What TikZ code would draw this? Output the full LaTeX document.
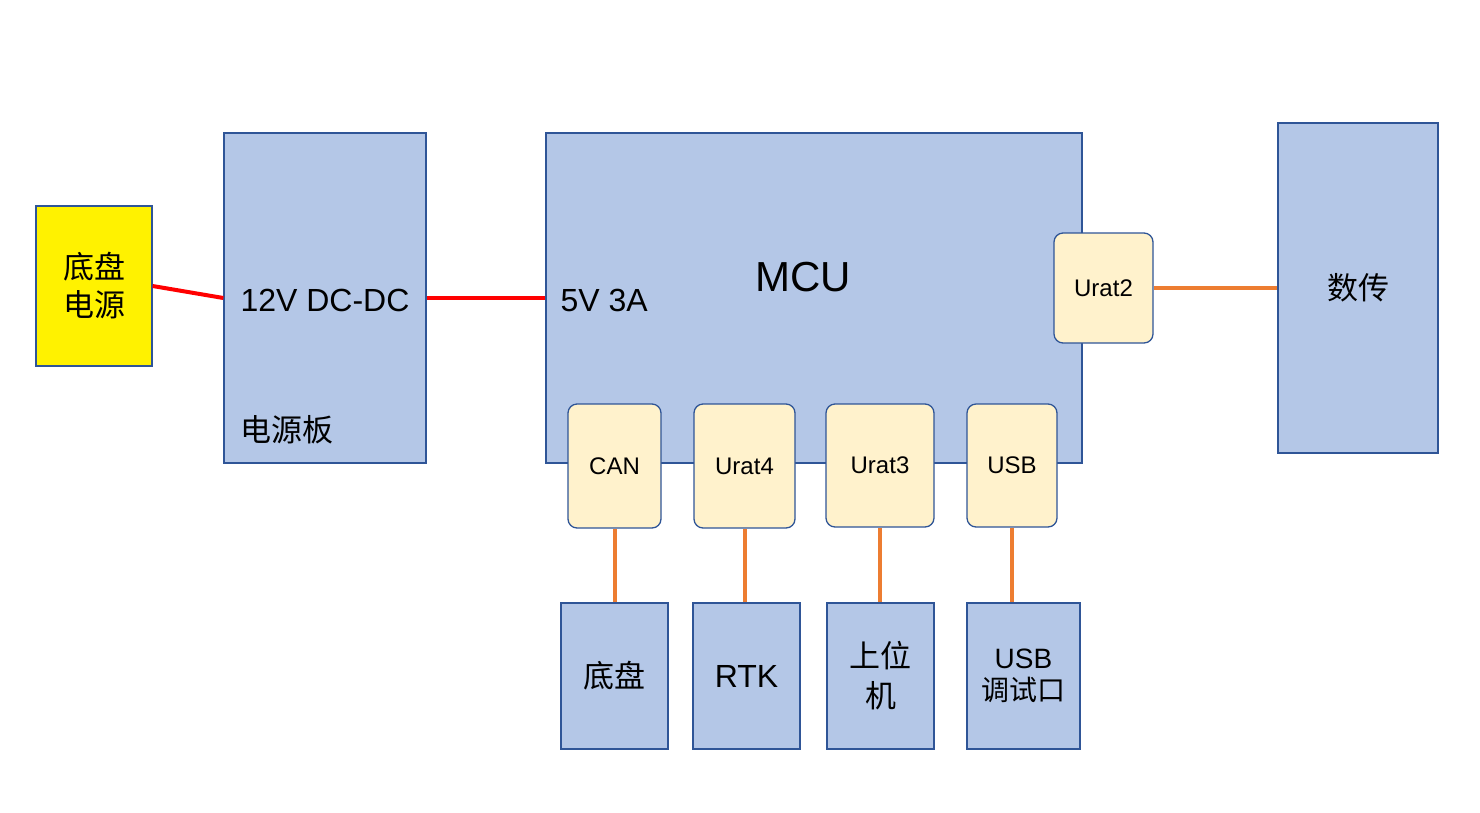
\documentclass[tikz,border=0pt]{standalone}
\usepackage{fontspec}
\setmainfont{Liberation Sans}
\newfontfamily\cjk{Noto Sans CJK SC}
\begin{document}
\begin{tikzpicture}[x=1pt,y=-1pt,
  blk/.style={draw=blue!40!black!70!cyan, line width=1.3pt, fill=bfill, inner sep=0pt},
  port/.style={draw=bedge, line width=1.3pt, fill=pfill, rounded corners=9pt, inner sep=0pt, font=\fontsize{24}{26}\selectfont},
  red/.style={draw=red, line width=4pt},
  org/.style={draw=oline, line width=4pt}]
\definecolor{bfill}{HTML}{B4C7E7}
\definecolor{bedge}{HTML}{2F5597}
\definecolor{pfill}{HTML}{FFF2CC}
\definecolor{oline}{HTML}{ED7D31}
\tikzset{blk/.style={draw=bedge, line width=1.3pt, fill=bfill, inner sep=0pt}}
\useasboundingbox (0,0) rectangle (1480,812);
\node[draw=bedge, line width=1.3pt, fill=yellow, minimum width=116pt, minimum height=160pt, align=center, font=\cjk\fontsize{31}{38}\selectfont] (ys) at (94,286) {底盘\\电源};
\node[blk, minimum width=202pt, minimum height=330pt] (pb) at (325,298) {};
\node[anchor=west, font=\fontsize{32}{36}\selectfont] (pbt) at (237,300) {12V DC-DC};
\node[anchor=west, font=\cjk\fontsize{31}{36}\selectfont] (pbl) at (237,430) {电源板};
\node[blk, minimum width=536pt, minimum height=330pt] (mcu) at (814,298) {};
\node[font=\fontsize{42}{46}\selectfont] (mcut) at (803,277) {MCU};
\node[anchor=west, font=\fontsize{32}{36}\selectfont] (v5) at (557,300) {5V 3A};
\node[port, minimum width=99pt, minimum height=110pt] (u2) at (1103.5,288) {Urat2};
\node[blk, minimum width=160pt, minimum height=330pt, font=\cjk\fontsize{31}{36}\selectfont] (sc) at (1358,288) {数传};
\node[port, minimum width=93pt, minimum height=124pt] (can) at (614.5,466) {CAN};
\node[port, minimum width=101pt, minimum height=124pt] (u4) at (744.5,466) {Urat4};
\node[port, minimum width=108pt, minimum height=123pt] (u3) at (880,465.5) {Urat3};
\node[port, minimum width=90pt, minimum height=123pt] (usb) at (1012,465.5) {USB};
\node[blk, minimum width=107pt, minimum height=146pt, font=\cjk\fontsize{31}{36}\selectfont] (dp) at (614.5,676) {底盘};
\node[blk, minimum width=107pt, minimum height=146pt, font=\fontsize{32}{36}\selectfont] (rtk) at (746.5,676) {RTK};
\node[blk, minimum width=107pt, minimum height=146pt, align=center, font=\cjk\fontsize{31}{40}\selectfont] (pc) at (880.5,676) {上位\\机};
\node[blk, minimum width=113pt, minimum height=146pt, align=center, font=\fontsize{28}{32}\selectfont] (ud) at (1023.5,676) {USB\\{\cjk 调试口}};
\draw[red] (ys.east) -- (pb.west);
\draw[red] (pb.east) -- (mcu.west);
\draw[org] (u2.east) -- (sc.west);
\draw[org] (can.south) -- (can.south |- dp.north);
\draw[org] (u4.south) -- (u4.south |- rtk.north);
\draw[org] (u3.south) -- (u3.south |- pc.north);
\draw[org] (usb.south) -- (usb.south |- ud.north);
\end{tikzpicture}
\end{document}
